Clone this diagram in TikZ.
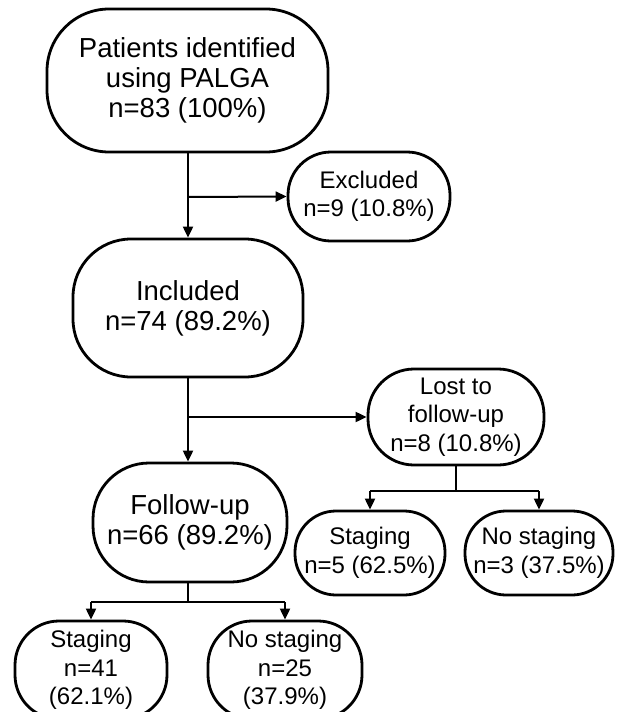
\documentclass[tikz,border=0pt]{standalone}
\usepackage{fontspec}
\setmainfont{Liberation Sans}
\usetikzlibrary{arrows.meta}
\tikzset{
  box/.style={draw, line width=2.8pt, rectangle, align=center, inner sep=0pt},
  bigbox/.style={box, font=\fontsize{27.5}{30}\selectfont},
  smallbox/.style={box, font=\fontsize{24}{28.5}\selectfont},
  arr/.style={line width=2pt, -{Triangle[length=11pt,width=10pt]}},
  ln/.style={line width=2pt}
}
\begin{document}
\begin{tikzpicture}[x=1pt,y=-1pt]
\useasboundingbox (0,0) rectangle (623,712);
\clip (0,0) rectangle (623,712);
\fill[white] (0,0) rectangle (623,712);
% boxes
\node[bigbox, minimum width=281pt, minimum height=143pt, rounded corners=62pt] (top) at (187.5,80.5)
  {Patients identified\\using PALGA\\n=83 (100\%)};
\node[smallbox, minimum width=162pt, minimum height=89pt, rounded corners=43pt] (exc) at (369,196.5)
  {Excluded\\n=9 (10.8\%)};
\node[bigbox, minimum width=230pt, minimum height=138pt, rounded corners=58pt] (inc) at (188,308)
  {Included\\n=74 (89.2\%)};
\node[smallbox, minimum width=176pt, minimum height=96pt, rounded corners=46pt] (lost) at (456,417)
  {Lost to\\follow-up\\n=8 (10.8\%)};
\node[bigbox, minimum width=194pt, minimum height=119pt, rounded corners=56pt] (fu) at (190,522.5)
  {Follow-up\\n=66 (89.2\%)};
\node[smallbox, minimum width=150pt, minimum height=84pt, rounded corners=41pt] (sr) at (370,553)
  {Staging\\n=5 (62.5\%)};
\node[smallbox, minimum width=148pt, minimum height=84pt, rounded corners=41pt] (nsr) at (539,553)
  {No staging\\n=3 (37.5\%)};
\node[smallbox, minimum width=152pt, minimum height=98pt, rounded corners=44pt] (sl) at (91,670)
  {Staging\\n=41\\(62.1\%)};
\node[smallbox, minimum width=154pt, minimum height=98pt, rounded corners=44pt] (nsl) at (285,670)
  {No staging\\n=25\\(37.9\%)};
% connectors
\coordinate (b1) at (188,197);
\coordinate (b2) at (188,417);
\draw[arr] (top.south -| b1) -- (inc.north -| b1);
\draw[arr] (b1) -- (exc.west);
\draw[arr] (inc.south -| b2) -- (fu.north -| b2);
\draw[arr] (b2) -- (lost.west);
% lost split
\coordinate (j1) at (456,491);
\draw[ln] (lost.south) -- (j1);
\draw[ln] (sr.north |- j1) -- (nsr.north |- j1);
\draw[arr] (sr.north |- j1) -- (sr.north);
\draw[arr] (nsr.north |- j1) -- (nsr.north);
% follow-up split
\coordinate (j2) at (188,602);
\draw[ln] (fu.south -| j2) -- (j2);
\draw[ln] (sl.north |- j2) -- (nsl.north |- j2);
\draw[arr] (sl.north |- j2) -- (sl.north);
\draw[arr] (nsl.north |- j2) -- (nsl.north);
\end{tikzpicture}
\end{document}
